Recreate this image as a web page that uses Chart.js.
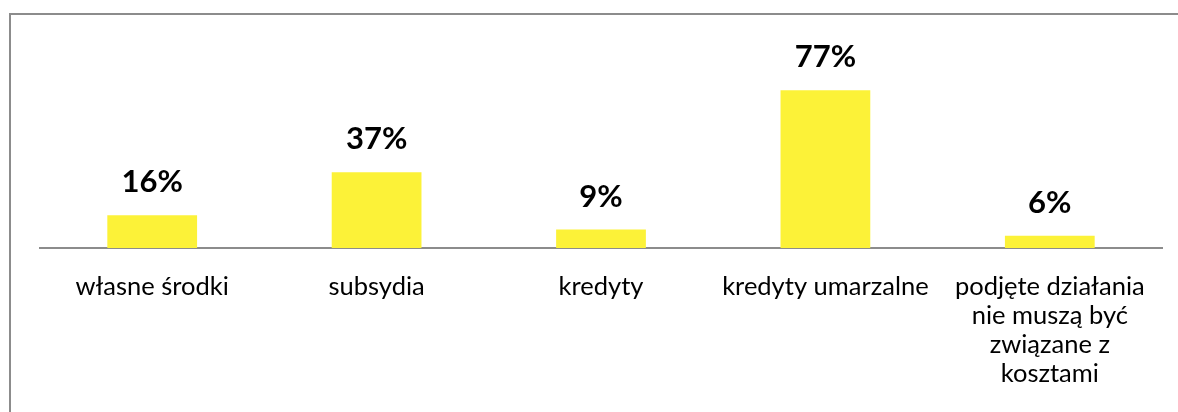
<!DOCTYPE html>
<html>
<head>
<meta charset="utf-8">
<script src="https://cdn.jsdelivr.net/npm/chart.js@4/dist/chart.umd.min.js"></script>
<style>
  html, body { margin: 0; padding: 0; background: #ffffff; }
  #wrap { position: relative; width: 1178px; height: 412px; overflow: hidden; }
  #frame { position: absolute; left: 9px; top: 13px; width: 1200px; height: 420px;
           border-top: 2px solid #8c8c8c; border-left: 2px solid #8c8c8c; box-sizing: border-box; }
  canvas { position: absolute; left: 0; top: 0; }
</style>
</head>
<body>
<div id="wrap">
  <div id="frame"></div>
  <canvas id="c" width="1178" height="412"></canvas>
</div>
<script>
const categories = [
  'własne środki',
  'subsydia',
  'kredyty',
  'kredyty umarzalne',
  ['podjęte działania', 'nie muszą być', 'związane z', 'kosztami']
];
const shares = [16, 37, 9, 77, 6];

// Percentage labels above each bar
const valueLabels = {
  id: 'valueLabels',
  afterDatasetsDraw(chart) {
    const ctx = chart.ctx;
    const meta = chart.getDatasetMeta(0);
    ctx.save();
    ctx.font = 'bold 31px Lato';
    ctx.fillStyle = '#000000';
    ctx.textAlign = 'center';
    ctx.textBaseline = 'alphabetic';
    meta.data.forEach((bar, i) => {
      ctx.fillText(shares[i] + '%', bar.x, bar.y - 23);
    });
    ctx.restore();
  }
};

new Chart(document.getElementById('c'), {
  type: 'bar',
  data: {
    labels: categories,
    datasets: [{
      data: shares,
      backgroundColor: '#fcf238',
      borderWidth: 0,
      barPercentage: 0.4,
      categoryPercentage: 1.0
    }]
  },
  options: {
    responsive: false,
    animation: false,
    layout: { padding: { left: 40, right: 16, top: 43, bottom: 0 } },
    plugins: { legend: { display: false }, tooltip: { enabled: false } },
    scales: {
      x: {
        grid: { display: false, drawTicks: false },
        border: { display: true, color: '#8c8c8c', width: 2 },
        ticks: {
          color: '#000000',
          font: { family: 'Lato', size: 25.5, lineHeight: '29px' },
          padding: 24,
          maxRotation: 0,
          autoSkip: false
        },
        afterFit(scale) { scale.height = 164; }
      },
      y: {
        display: false,
        min: 0,
        max: 100
      }
    }
  },
  plugins: [valueLabels]
});
</script>
</body>
</html>
